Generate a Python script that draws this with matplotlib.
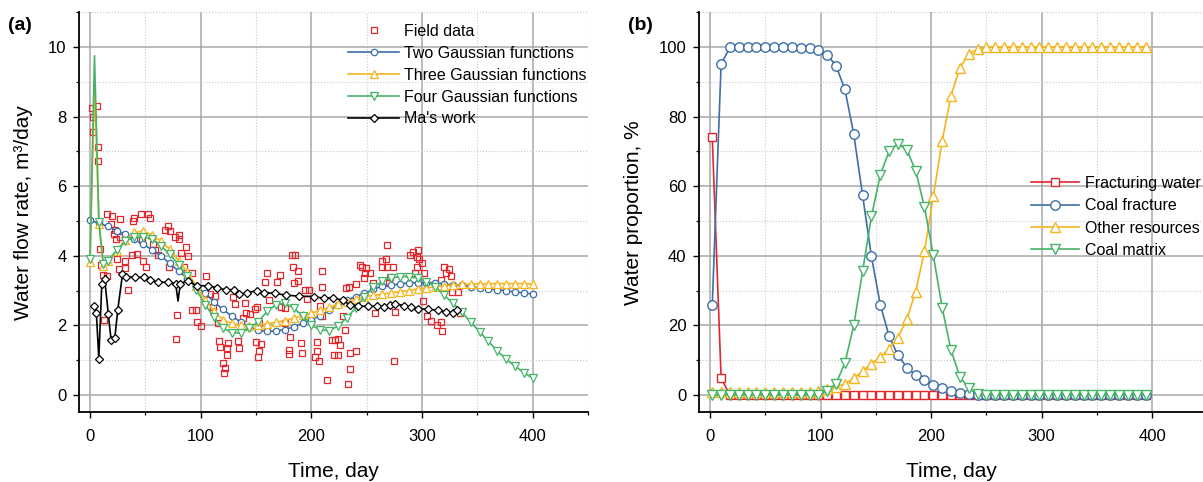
"""
    Water flow rate fits (a) and water source proportions (b)
"""
import numpy as np
import matplotlib
matplotlib.use("Agg")
import matplotlib.pyplot as plt
from matplotlib.ticker import MultipleLocator

plt.rcParams['font.family'] = ['Liberation Sans', 'DejaVu Sans']

"""
    Data, panel (a)
"""
field_day = [2, 3, 3, 6, 7, 7, 8.7, 10, 11.5, 12.2,
             15.7, 15.5, 20, 18.5, 22.6, 22, 23.3, 26.8, 24.7, 26, 27, 31.3, 32, 34,
             39, 40, 37.6, 42.4, 45.6, 52.2, 54.6, 47.7, 50.4, 59, 61.6, 56.7, 47,
             67.8, 70.3, 72.3, 71.6, 76.5, 80.3, 80.3, 82.4, 87, 88.7, 85.2, 78.3, 77.6,
             92.5, 92.2, 95.7, 97, 100.3,
             105, 108, 111, 113, 116, 116.5, 117.4, 120.4, 121.9, 121.3, 123.4, 124, 124.3,
             131.2, 129.4, 133.3, 134.8, 138.4, 140, 141, 144.5, 149, 150.5, 150.2, 152.9,
             154.1, 152.6, 152,
             159.5, 158, 161.6, 169.1, 171.6, 172.8, 176, 176.1, 180.6, 180, 180, 182.7, 185,
             183.6, 187.5, 184.5, 188.1, 190.5, 191.7, 194.1, 198, 196.4,
             204.7, 204.7, 203.2, 207.1, 210, 209.8, 208, 210, 214.3, 218.2, 221.2, 224.2,
             225.7, 220.4, 224.2, 228.2, 230.3, 234.8, 234.8, 233.3, 240.6, 231.1, 234.2,
             240.3, 244.4, 248.3, 249.8, 252.8, 248, 246,
             255.5, 257.6, 263.6, 267.9, 267.3, 263.4, 268.5, 273.9, 270.9, 270.6, 275.4,
             274.5, 288.9, 291.9, 296.4, 295.2, 297, 300.3, 295.8, 293.3, 301.8,
             301, 304.8, 308.5, 313.6, 316.7, 318.5, 320, 324.5, 321.5, 326, 317, 327.5,
             332.6, 334.7]
field_rate = [8.25, 8.0, 7.56, 8.3, 7.12, 6.72, 4.19, 3.74, 3.44, 2.16,
              5.2, 3.42, 5.14, 4.9, 4.74, 4.63, 4.47, 5.06, 3.91, 3.61, 4.53, 3.66, 3.86, 3.02,
              5.01, 5.08, 4.02, 4.04, 5.19, 5.19, 5.08, 3.86, 3.69, 4.17, 4.02, 4.33, 4.45,
              4.74, 4.86, 4.71, 3.69, 4.53, 4.6, 4.47, 4.07, 4.26, 3.98, 3.69, 2.3, 1.61,
              3.5, 2.45, 2.45, 2.1, 1.97,
              3.42, 2.9, 2.54, 2.85, 2.06, 1.56, 1.39, 0.91, 0.77, 0.62, 1.15, 1.34, 1.5,
              2.61, 2.83, 1.56, 1.34, 2.2, 2.63, 2.37, 2.33, 2.46, 2.54, 1.51, 2.08,
              1.47, 1.26, 1.08,
              3.5, 3.26, 2.73, 3.26, 3.45, 2.54, 2.06, 2.49, 1.68, 1.29, 1.18, 4.02, 4.02,
              3.69, 3.57, 3.23, 3.29, 1.5, 1.2, 3.02, 3.02, 2.76,
              1.51, 1.27, 1.1, 0.99, 3.57, 3.09, 2.56, 2.27, 0.43, 1.58, 1.58, 1.6,
              1.44, 1.15, 1.15, 2.28, 1.87, 1.2, 0.75, 0.32, 1.27, 3.08, 3.09,
              3.19, 3.74, 3.5, 3.64, 3.52, 3.35, 3.67,
              3.21, 2.37, 3.86, 4.31, 3.9, 3.67, 3.67, 3.67, 3.4, 3.21, 2.39,
              0.99, 4.02, 4.12, 4.17, 3.96, 3.9, 3.78, 3.67, 3.5, 3.5,
              2.71, 2.28, 2.14, 2.0, 2.09, 1.84, 3.69, 3.62, 3.52, 3.42, 3.3, 2.97,
              2.97, 2.35]

# two Gaussian fit, one point every 8 days
two_day = list(range(0, 401, 8))
two_rate = [5.03, 4.93, 4.85, 4.72, 4.62, 4.47, 4.33, 4.18, 4.0, 3.78,
            3.56, 3.34, 3.12, 2.92, 2.68, 2.46, 2.27, 2.1, 1.96, 1.86,
            1.83, 1.84, 1.88, 1.96, 2.06, 2.16, 2.28, 2.43, 2.58, 2.72,
            2.83, 2.92, 3.04, 3.13, 3.16, 3.19, 3.22, 3.23, 3.23, 3.23,
            3.19, 3.16, 3.15, 3.11, 3.08, 3.06, 3.02, 3.0, 2.96, 2.94, 2.9]

# three and four Gaussian fits share the same days (extra early points for the peak)
fit_day = [0, 4, 8, 12, 16] + list(range(24, 401, 8))
three_rate = [3.83, 9.0, 4.9, 3.7, 3.84, 4.14, 4.45, 4.67, 4.71, 4.6,
              4.42, 4.19, 3.86, 3.53, 3.13, 2.74, 2.4, 2.16, 2.06, 2.01,
              1.99, 2.01, 2.05, 2.09, 2.14, 2.21, 2.29, 2.35, 2.43, 2.52,
              2.61, 2.68, 2.75, 2.83, 2.86, 2.9, 2.93, 2.97, 3.0, 3.05,
              3.08, 3.11, 3.14, 3.16, 3.18, 3.19, 3.19, 3.2, 3.2, 3.2,
              3.2, 3.2, 3.19]
four_rate = [3.9, 9.75, 4.98, 3.76, 3.85, 4.16, 4.42, 4.54, 4.54, 4.48,
             4.29, 4.04, 3.75, 3.41, 3.03, 2.6, 2.23, 1.93, 1.79, 1.78,
             1.92, 2.11, 2.4, 2.59, 2.64, 2.5, 2.27, 2.0, 1.87, 1.85,
             1.98, 2.22, 2.5, 2.83, 3.1, 3.27, 3.36, 3.4, 3.4, 3.36,
             3.26, 3.11, 2.87, 2.63, 2.38, 2.09, 1.82, 1.54, 1.27, 1.03,
             0.83, 0.64, 0.48]

ma_day = [3.4, 5.7, 7.9, 10.6, 13.2, 16.5, 19, 22.4, 25, 29.3, 32.5, 40.5, 49, 54.5,
          61.7, 70, 77.3, 79.5, 81.6, 88.1, 96.3, 106.9, 114.8, 122.7, 130, 134.5, 142,
          151, 157.5, 167, 177, 189, 202, 211, 219.3, 228.3, 235, 242.4, 251, 259, 266,
          271, 276, 283.4, 290, 296.2, 305, 314.3, 322, 328, 331.7]
ma_rate = [2.56, 2.35, 1.04, 3.19, 3.33, 2.32, 1.58, 1.65, 2.44, 3.47, 3.4, 3.38, 3.38, 3.3,
           3.24, 3.24, 3.2, 2.7, 3.2, 3.29, 3.14, 3.14, 3.08, 3.02, 3.03, 2.9, 2.94,
           3.0, 2.94, 2.92, 2.87, 2.84, 2.83, 2.78, 2.8, 2.72, 2.59, 2.55, 2.55, 2.55, 2.54,
           2.59, 2.62, 2.57, 2.53, 2.47, 2.47, 2.43, 2.39, 2.37, 2.44]

"""
    Data, panel (b)
"""
prop_day = list(range(2, 395, 8))
fracturing = [74.2, 4.8, 0, 0, 0, 0, 0, 0, 0, 0,
              0, 0, 0, 0, 0, 0, 0, 0, 0, 0,
              0, 0, 0, 0, 0, 0, 0, 0, 0, 0,
              0, 0, 0, 0, 0, 0, 0, 0, 0, 0,
              0, 0, 0, 0, 0, 0, 0, 0, 0, 0]
coal_fracture = [25.8, 95.1, 99.9, 100, 100, 100, 100, 100, 100, 99.9,
                 99.8, 99.6, 99.2, 97.8, 94.6, 87.8, 75.0, 57.4, 39.8, 26.0,
                 16.9, 11.4, 7.9, 5.8, 4.3, 3.0, 2.0, 1.2, 0.7, 0.3,
                 0.1, 0, 0, 0, 0, 0, 0, 0, 0, 0,
                 0, 0, 0, 0, 0, 0, 0, 0, 0, 0]
other_resources = [0.9, 0.9, 0.9, 0.9, 0.9, 0.9, 0.9, 0.9, 0.9, 0.9,
                   0.9, 0.9, 1.2, 1.7, 2.4, 3.2, 4.8, 6.9, 9.0, 10.8,
                   13.3, 16.5, 21.8, 29.7, 41.3, 57.1, 73.0, 86.0, 94.0, 98.0,
                   99.4, 99.9, 100, 100, 100, 100, 100, 100, 100, 100,
                   100, 100, 100, 100, 100, 100, 100, 100, 100, 100]
coal_matrix = [0, 0, 0, 0, 0, 0, 0, 0, 0, 0,
               0, 0, 0, 1.1, 3.3, 9.2, 20.0, 35.5, 51.3, 63.2,
               70.1, 72.2, 70.4, 64.5, 54.0, 40.2, 25.1, 12.9, 5.3, 1.9,
               0.4, 0, 0, 0, 0, 0, 0, 0, 0, 0,
               0, 0, 0, 0, 0, 0, 0, 0, 0, 0]

RED = '#e3262b'
BLUE = '#3d6ea8'
YELLOW = '#f6b41c'
GREEN = '#45b467'


def style_axes(ax, ymin_step, ymaj, ylim, xlim):
    ax.set_xlim(*xlim)
    ax.set_ylim(*ylim)
    ax.xaxis.set_major_locator(MultipleLocator(100))
    ax.xaxis.set_minor_locator(MultipleLocator(50))
    ax.yaxis.set_major_locator(MultipleLocator(ymaj))
    ax.yaxis.set_minor_locator(MultipleLocator(ymin_step))
    ax.grid(which='major', color='#a8a8a8', lw=1.1)
    ax.grid(which='minor', color='#c8c8c8', lw=0.8, ls=':')
    ax.set_axisbelow(True)
    for s in ['top', 'right']:
        ax.spines[s].set_visible(False)
    for s in ['left', 'bottom']:
        ax.spines[s].set_linewidth(1.3)
    ax.tick_params(which='major', direction='out', length=4, width=1.0, labelsize=12, pad=5)
    ax.tick_params(which='minor', direction='out', length=2.5, width=0.9)
    ax.tick_params(axis='x', which='major', pad=8)


fig = plt.figure(figsize=(12.03, 4.82), dpi=100)
ax1 = fig.add_axes([79 / 1203, 1 - 412.4 / 482, 509 / 1203, 400.2 / 482])
ax2 = fig.add_axes([699 / 1203, 1 - 412.4 / 482, 504 / 1203, 400.2 / 482])

"""
    Panel (a)
"""
skip_spike = [i for i in range(len(fit_day)) if i != 1]
skip_dip = [i for i in range(len(ma_day)) if i != 17]

ax1.plot(field_day, field_rate, ls='none', marker='s', ms=4.3, mfc='none', mec=RED, mew=0.9,
         label='Field data')
ax1.plot(two_day, two_rate, color=BLUE, lw=1.2, marker='o', ms=4.6, mfc='white', mec=BLUE,
         mew=0.9, label='Two Gaussian functions')
ax1.plot(fit_day, three_rate, color=YELLOW, lw=1.2, marker='^', ms=5.2, mfc='white', mec=YELLOW,
         mew=0.9, markevery=skip_spike, label='Three Gaussian functions')
ax1.plot(fit_day, four_rate, color=GREEN, lw=1.2, marker='v', ms=5.2, mfc='white', mec=GREEN,
         mew=0.9, markevery=skip_spike, label='Four Gaussian functions')
ax1.plot(ma_day, ma_rate, color='black', lw=1.2, marker='D', ms=4.0, mfc='white', mec='black',
         mew=0.9, markevery=skip_dip, label="Ma's work")

style_axes(ax1, 1, 2, (-0.5, 11), (-10, 450))
ax1.set_xlabel('Time, day', fontsize=15, labelpad=13)
ax1.set_ylabel('Water flow rate, m³/day', fontsize=15, labelpad=11)
ax1.legend(loc='upper left', bbox_to_anchor=(348 / 1203, 1 - 24 / 482),
           bbox_transform=fig.transFigure, frameon=False, fontsize=11.5,
           handlelength=3.2, handletextpad=0.3, labelspacing=0.43, borderpad=0,
           borderaxespad=0)
fig.text(8 / 1203, 1 - 25 / 482, '(a)', fontsize=14, fontweight='bold', va='center', ha='left')

"""
    Panel (b)
"""
ax2.plot(prop_day, fracturing, color=RED, lw=1.2, marker='s', ms=6.3, mfc='white', mec=RED,
         mew=1.0, label='Fracturing water')
ax2.plot(prop_day, coal_fracture, color=BLUE, lw=1.2, marker='o', ms=6.8, mfc='white', mec=BLUE,
         mew=1.0, label='Coal fracture')
ax2.plot(prop_day, other_resources, color=YELLOW, lw=1.2, marker='^', ms=7, mfc='white',
         mec=YELLOW, mew=1.0, label='Other resources')
ax2.plot(prop_day, coal_matrix, color=GREEN, lw=1.2, marker='v', ms=7, mfc='white', mec=GREEN,
         mew=1.0, label='Coal matrix')

style_axes(ax2, 10, 20, (-5, 110), (-10, 446))
ax2.set_xlabel('Time, day', fontsize=15, labelpad=13)
ax2.set_ylabel('Water proportion, %', fontsize=15, labelpad=11)
ax2.legend(loc='upper left', bbox_to_anchor=(1031 / 1203, 1 - 176 / 482),
           bbox_transform=fig.transFigure, frameon=False, fontsize=11.5,
           handlelength=3.0, handletextpad=0.4, labelspacing=0.46, borderpad=0,
           borderaxespad=0)
fig.text(628 / 1203, 1 - 25 / 482, '(b)', fontsize=14, fontweight='bold', va='center', ha='left')

fig.savefig('out.png', dpi=100)
